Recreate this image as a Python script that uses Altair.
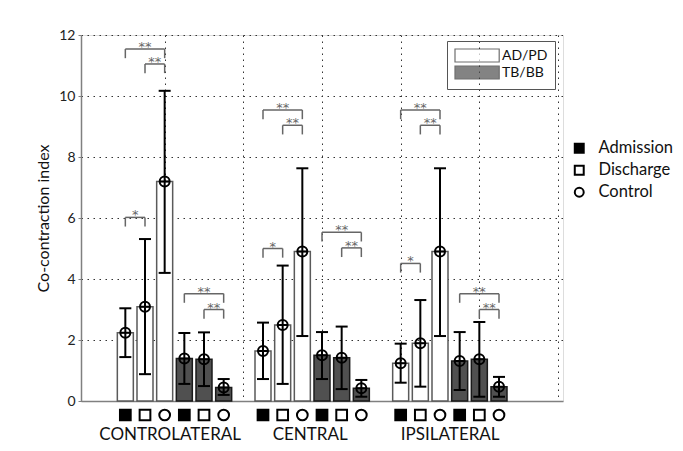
import altair as alt
import pandas as pd

# ---- data ----
groups = ["CONTROLATERAL", "CENTRAL", "IPSILATERAL"]
group_centers = [1.07, 2.85, 4.63]
conds = ["Admission", "Discharge", "Control"]
muscles = ["AD/PD", "TB/BB"]

positions = [0.5, 0.75, 1.0, 1.25, 1.5, 1.75,
             2.25, 2.5, 2.75, 3.0, 3.25, 3.5,
             4.0, 4.25, 4.5, 4.75, 5.0, 5.25]
muscle_col = (["AD/PD"] * 3 + ["TB/BB"] * 3) * 3
cond_col = conds * 6
means = [2.24, 3.09, 7.20, 1.39, 1.37, 0.44,
         1.64, 2.49, 4.90, 1.50, 1.42, 0.42,
         1.24, 1.89, 4.90, 1.31, 1.37, 0.47]
err_hi = [3.04, 5.31, 10.17, 2.23, 2.25, 0.72,
          2.57, 4.44, 7.63, 2.26, 2.44, 0.69,
          1.88, 3.31, 7.63, 2.26, 2.59, 0.79]
err_lo = [1.44, 0.88, 4.20, 0.56, 0.49, 0.20,
          0.72, 0.56, 2.13, 0.72, 0.39, 0.14,
          0.60, 0.47, 2.13, 0.36, 0.14, 0.14]

br_x1 = [0.5, 0.75, 0.5, 1.25, 1.5, 2.25, 2.5, 2.25, 3.0, 3.25, 4.0, 4.25, 4.0, 4.75, 5.0]
br_x2 = [1.0, 1.0, 0.75, 1.75, 1.75, 2.75, 2.75, 2.5, 3.5, 3.5, 4.5, 4.5, 4.25, 5.25, 5.25]
br_y = [11.54, 11.05, 6.02, 3.52, 3.0, 9.54, 9.04, 5.0, 5.53, 5.02, 9.54, 9.04, 4.51, 3.52, 3.0]
br_lbl = ["**", "**", "*", "**", "**", "**", "**", "*", "**", "**", "**", "**", "*", "**", "**"]
leg_drop = 0.3

df = pd.DataFrame({"pos": positions, "muscle": muscle_col, "cond": cond_col,
                   "mean": means, "hi": err_hi, "lo": err_lo})
br = pd.DataFrame({"x1": br_x1, "x2": br_x2, "y": br_y, "lbl": br_lbl})
br["yl"] = br["y"] - leg_drop
br["xm"] = (br["x1"] + br["x2"]) / 2
legs = pd.concat([
    pd.DataFrame({"x": br["x1"], "y": br["y"], "yl": br["yl"]}),
    pd.DataFrame({"x": br["x2"], "y": br["y"], "yl": br["yl"]}),
])
gdf = pd.DataFrame({"g": groups, "x": group_centers})

FONT = "Lato"
xs = alt.Scale(domain=[0, 6], nice=False, zero=False)
ys = alt.Scale(domain=[0, 12], nice=False)

xax = alt.Axis(values=[1, 2, 3, 4, 5, 6], labels=False, ticks=False, title=None,
               grid=True, gridDash=[1.5, 4.5], gridColor="#333", gridWidth=1,
               domainColor="#808080", domainWidth=1.5)
yax = alt.Axis(values=[0, 2, 4, 6, 8, 10, 12], grid=True, gridDash=[1.5, 4.5],
               gridColor="#333", gridWidth=1, domainColor="#808080", domainWidth=1.5,
               tickColor="#808080", tickSize=3, tickWidth=1, labelFont=FONT,
               labelFontSize=14, labelColor="#222", labelPadding=3,
               title="Co-contraction index", titleFont=FONT, titleFontSize=16,
               titleFontWeight="normal", titleColor="#111", titleAngle=-90,
               titleX=-38, titleY=183, titleAlign="center", titleBaseline="middle")

base = alt.Chart(df)

# wide swatch path: 6.8 x 2 units, scaled by sqrt(size)/2 = 6.5 -> 44 x 13 px,
# shifted so that it starts at the entry's left edge
swatch = "M-1,-1H5.8V1H-1Z"
color_enc = alt.Color("muscle:N",
                      scale=alt.Scale(domain=muscles, range=["#ffffff", "#505050"]),
                      legend=alt.Legend(orient="none", legendX=366, legendY=6, title=None,
                                        symbolType=swatch, symbolSize=169,
                                        symbolStrokeColor="#333", symbolStrokeWidth=1.2,
                                        symbolOpacity=0.7,
                                        labelFont=FONT, labelFontSize=14, labelColor="#111",
                                        labelOffset=33, rowPadding=-5, padding=7,
                                        strokeColor="#555"))

bars_a = base.transform_filter(alt.datum.muscle == "AD/PD").mark_bar(
    width=16, strokeWidth=1.5, stroke="#5a5a5a").encode(
    x=alt.X("pos:Q", scale=xs, axis=xax),
    y=alt.Y("mean:Q", scale=ys, axis=yax),
    color=color_enc,
)
bars_b = base.transform_filter(alt.datum.muscle == "TB/BB").mark_bar(
    width=16, strokeWidth=1.5, stroke="#1a1a1a").encode(
    x=alt.X("pos:Q", scale=xs, axis=xax),
    y=alt.Y("mean:Q", scale=ys, axis=yax),
    color=color_enc,
)

err = base.mark_rule(color="black", strokeWidth=2).encode(
    x="pos:Q", y="lo:Q", y2="hi:Q")
cap_hi = base.mark_rule(color="black", strokeWidth=2, xOffset=-6, x2Offset=6).encode(
    x="pos:Q", x2="pos:Q", y="hi:Q")
cap_lo = base.mark_rule(color="black", strokeWidth=2, xOffset=-6, x2Offset=6).encode(
    x="pos:Q", x2="pos:Q", y="lo:Q")

mean_pt = base.mark_point(shape="M-1,0A1,1,0,1,1,1,0A1,1,0,1,1,-1,0ZM-1,0H1", size=100,
                          filled=False, color="black", strokeWidth=2, opacity=1).encode(
    x="pos:Q", y="mean:Q")

cond_legend = alt.Legend(orient="none", legendX=490, legendY=105, title=None,
                         labelFont=FONT, labelFontSize=16.5, labelColor="#111",
                         labelLimit=200,
                         symbolSize=80, symbolStrokeColor="black", symbolStrokeWidth=2,
                         labelOffset=11, rowPadding=4)
markers = base.mark_point(filled=True, strokeWidth=2, opacity=1, size=115).encode(
    x="pos:Q",
    y=alt.value(380),
    shape=alt.Shape("cond:N", scale=alt.Scale(domain=conds, range=["square", "square", "circle"]),
                    legend=cond_legend),
    fill=alt.Fill("cond:N", scale=alt.Scale(domain=conds, range=["black", "white", "white"]),
                  legend=cond_legend),
    stroke=alt.Stroke("cond:N", scale=alt.Scale(domain=conds, range=["black", "black", "black"]),
                      legend=cond_legend),
)

glabels = alt.Chart(gdf).mark_text(font=FONT, fontSize=17, color="#111", baseline="middle").encode(
    x="x:Q", y=alt.value(400), text="g:N")

bh = alt.Chart(br).mark_rule(color="#666", strokeWidth=1.5).encode(
    x="x1:Q", x2="x2:Q", y="y:Q")
bl = alt.Chart(legs).mark_rule(color="#666", strokeWidth=1.5).encode(
    x="x:Q", y="yl:Q", y2="y:Q")
stars = alt.Chart(br).mark_text(font="DejaVu Sans", fontSize=13, color="#666",
                                baseline="alphabetic", dy=2).encode(
    x="xm:Q", y="y:Q", text="lbl:N")

chart = alt.layer(bars_a, bars_b, bh, bl, stars, err, cap_hi, cap_lo, mean_pt, markers,
                  glabels).properties(
    width=482, height=366,
    autosize=alt.AutoSizeParams(type="none"),
    padding={"left": 73, "top": 27, "right": 112, "bottom": 42},
).configure_view(stroke=None).configure(font=FONT)

chart.save("out.html", embed_options={"renderer": "svg", "actions": False})
